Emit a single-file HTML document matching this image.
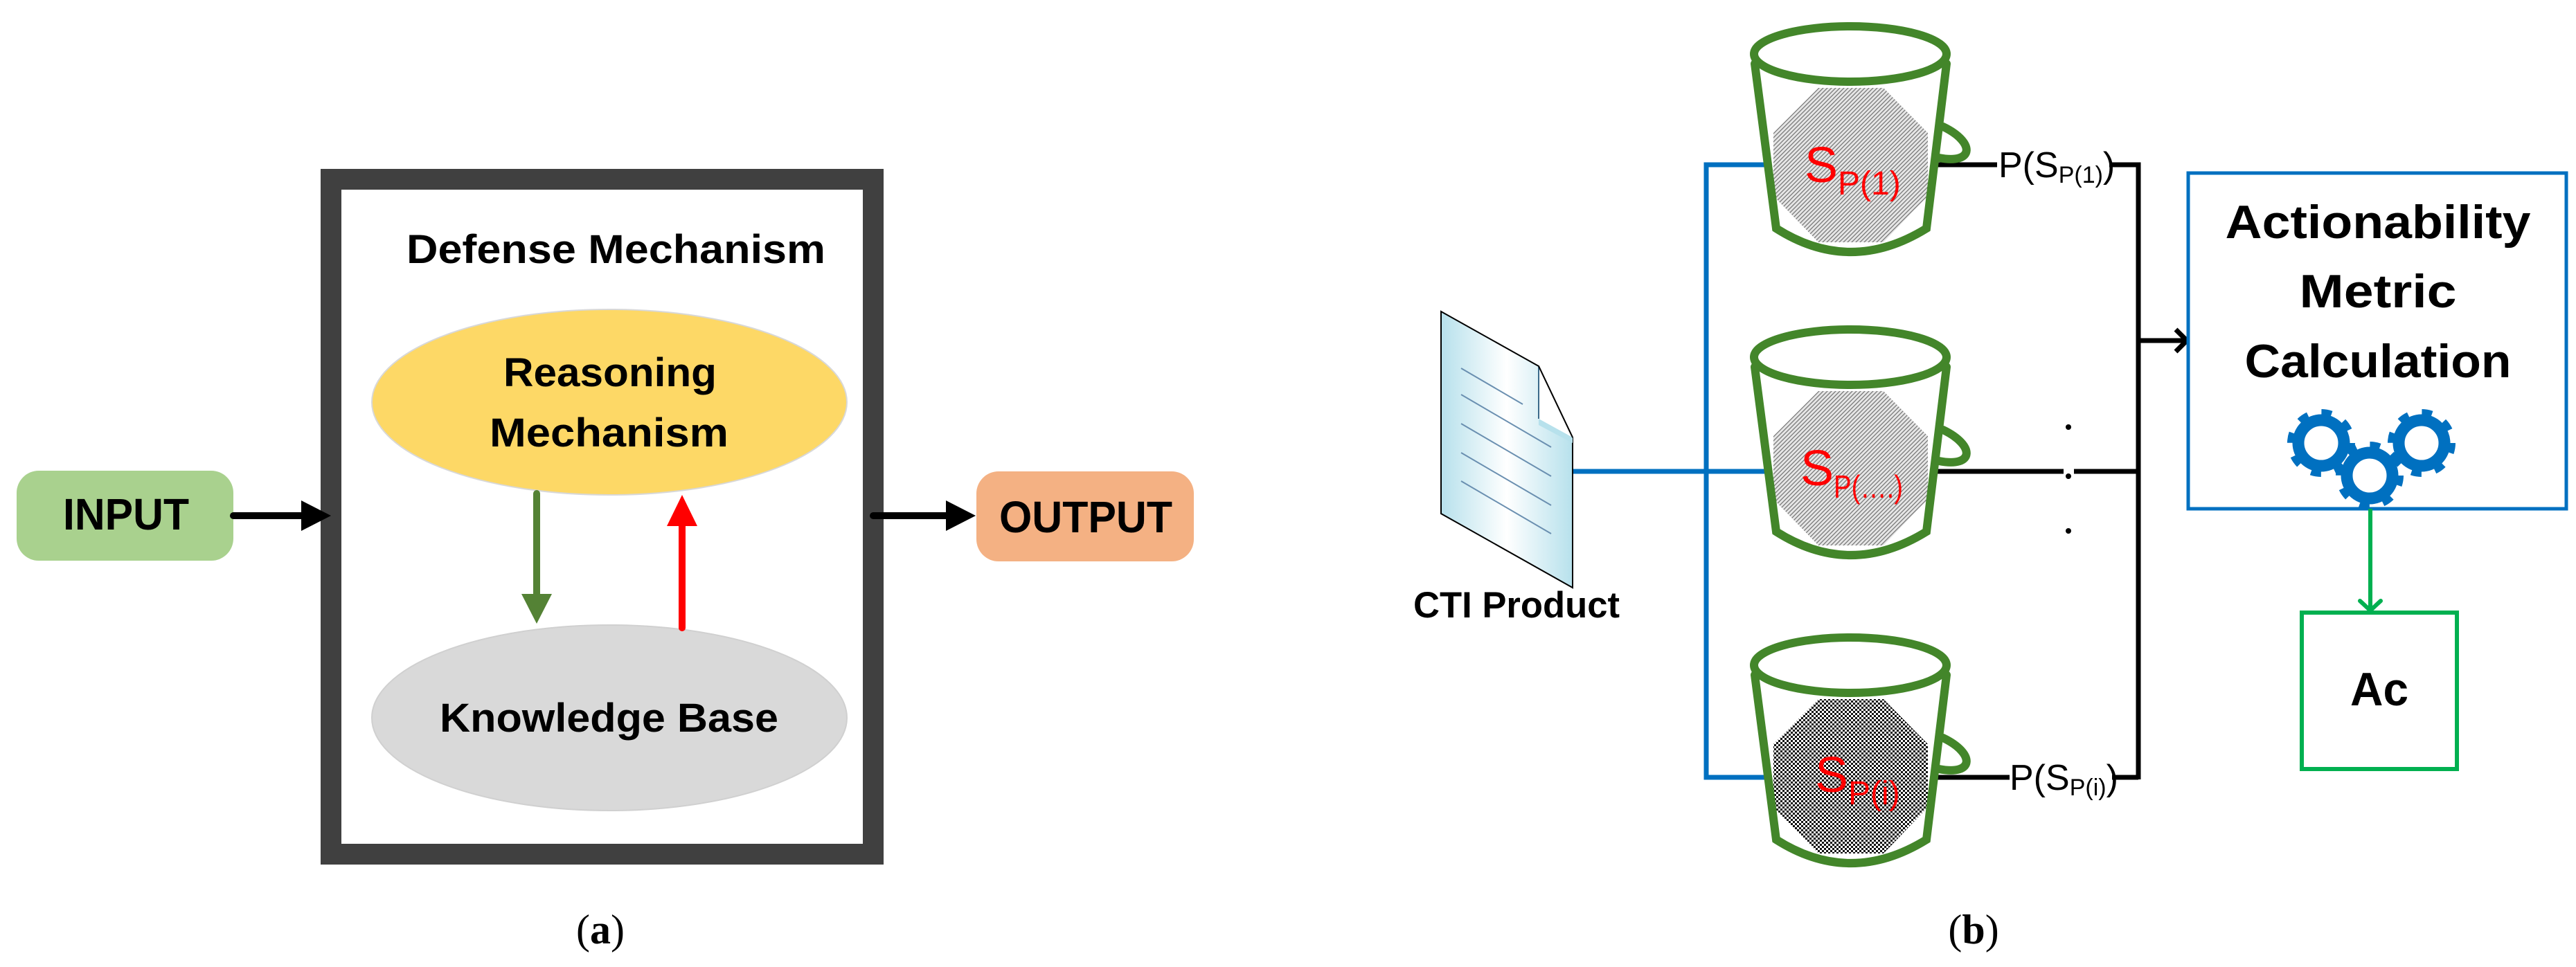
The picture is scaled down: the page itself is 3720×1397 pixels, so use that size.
<!DOCTYPE html>
<html><head><meta charset="utf-8"><style>html,body{margin:0;padding:0;background:#fff}svg{display:block}</style></head>
<body>
<svg width="3720" height="1397" viewBox="0 0 3720 1397" xmlns="http://www.w3.org/2000/svg" font-family="'Liberation Sans', sans-serif">
<defs>
<pattern id="hatch" width="6" height="6" patternUnits="userSpaceOnUse">
<rect width="6" height="6" fill="#e6e6e6"/>
<path d="M-1,7 L7,-1 M-1,1 L1,-1 M5,7 L7,5" stroke="#777" stroke-width="1.3"/>
</pattern>
<pattern id="check" width="6" height="6" patternUnits="userSpaceOnUse">
<rect width="6" height="6" fill="#fff"/>
<rect width="3" height="3" fill="#111"/><rect x="3" y="3" width="3" height="3" fill="#111"/>
</pattern>
<linearGradient id="doc" x1="0" x2="1" y1="0" y2="0">
<stop offset="0" stop-color="#b7e1ec"/><stop offset="0.5" stop-color="#ffffff"/><stop offset="1" stop-color="#b7e1ec"/>
</linearGradient>
<g id="gear">
<circle r="33" fill="none" stroke="#0070c0" stroke-width="17"/>
<circle r="42" fill="none" stroke="#0070c0" stroke-width="14" stroke-dasharray="14 19"/>
</g>
<g id="bucket" fill="none" stroke="#43862a" stroke-width="12" stroke-linecap="round">
<ellipse cx="2672" cy="78" rx="139" ry="40"/>
<path d="M2534,92 L2565,330 Q2672,398 2782,330 L2811,92"/>
<path d="M2806,183 C2852,205 2852,238 2800,228"/>
</g>
</defs>

<!-- LEFT PANEL -->
<rect x="478" y="259" width="783" height="975" fill="#fff" stroke="#404040" stroke-width="30"/>
<text x="587" y="380" font-size="58" font-weight="bold" textLength="605" lengthAdjust="spacingAndGlyphs">Defense Mechanism</text>
<ellipse cx="880" cy="581" rx="343" ry="134" fill="#fdd866" stroke="#d8d8d8" stroke-width="2"/>
<text x="727" y="558" font-size="58" font-weight="bold" textLength="308" lengthAdjust="spacingAndGlyphs">Reasoning</text>
<text x="707" y="645" font-size="58" font-weight="bold" textLength="345" lengthAdjust="spacingAndGlyphs">Mechanism</text>
<ellipse cx="880" cy="1037" rx="343" ry="134" fill="#d9d9d9" stroke="#d0d0d0" stroke-width="2"/>
<text x="635" y="1057" font-size="58" font-weight="bold" textLength="489" lengthAdjust="spacingAndGlyphs">Knowledge Base</text>
<line x1="775" y1="713" x2="775" y2="862" stroke="#548235" stroke-width="10" stroke-linecap="round"/>
<polygon points="753,858 797,858 775,901" fill="#548235"/>
<line x1="985" y1="907" x2="985" y2="758" stroke="#ff0000" stroke-width="10" stroke-linecap="round"/>
<polygon points="963,760 1007,760 985,715" fill="#ff0000"/>
<rect x="24" y="680" width="313" height="130" rx="32" fill="#a9d18e"/>
<text x="91" y="765" font-size="64" font-weight="bold" textLength="182" lengthAdjust="spacingAndGlyphs">INPUT</text>
<line x1="337" y1="745" x2="440" y2="745" stroke="#000" stroke-width="10" stroke-linecap="round"/>
<polygon points="435,723 435,767 478,745" fill="#000"/>
<line x1="1261" y1="745" x2="1370" y2="745" stroke="#000" stroke-width="10" stroke-linecap="round"/>
<polygon points="1366,723 1366,767 1409,745" fill="#000"/>
<rect x="1410" y="681" width="314" height="130" rx="32" fill="#f4b183"/>
<text x="1443" y="769" font-size="64" font-weight="bold" textLength="250" lengthAdjust="spacingAndGlyphs">OUTPUT</text>
<text x="867" y="1363" font-size="60" text-anchor="middle" font-family="'Liberation Serif', serif">(<tspan font-weight="bold">a</tspan>)</text>

<!-- RIGHT PANEL -->
<!-- blue connectors -->
<g stroke="#0070c0" stroke-width="7" fill="none">
<polyline points="2552,238 2464,238 2464,1123 2552,1123"/>
<line x1="2271" y1="681" x2="2556" y2="681"/>
</g>
<!-- black connectors -->
<g stroke="#000" stroke-width="7" fill="none">
<line x1="2795" y1="238" x2="2884" y2="238"/>
<polyline points="3046,238 3088,238 3088,1126"/>
<line x1="2795" y1="681" x2="2980" y2="681"/>
<line x1="2995" y1="681" x2="3088" y2="681"/>
<line x1="2795" y1="1123" x2="2902" y2="1123"/>
<line x1="3050" y1="1123" x2="3088" y2="1123"/>
<line x1="3085" y1="492" x2="3158" y2="492"/>
<polyline points="3142,476 3158,492 3142,508"/>
</g>
<circle cx="2987" cy="617" r="4" fill="#000"/>
<circle cx="2987" cy="688" r="4" fill="#000"/>
<circle cx="2987" cy="767" r="4" fill="#000"/>

<!-- buckets -->
<g>
<polygon points="2626,127 2720,127 2784,192 2784,283 2720,350 2626,350 2561,283 2561,192" fill="url(#hatch)"/>
<use href="#bucket"/>
<text x="2606" y="263" font-size="72" fill="#ff0000">S<tspan font-size="48" dy="18">P(1)</tspan></text>
</g>
<g transform="translate(0,438)">
<polygon points="2626,127 2720,127 2784,192 2784,283 2720,350 2626,350 2561,283 2561,192" fill="url(#hatch)"/>
<use href="#bucket"/>
<text x="2600" y="263" font-size="72" fill="#ff0000">S<tspan font-size="46" dy="18" textLength="100" lengthAdjust="spacingAndGlyphs">P(….)</tspan></text>
</g>
<g transform="translate(0,883)">
<polygon points="2626,127 2720,127 2784,192 2784,283 2720,350 2626,350 2561,283 2561,192" fill="url(#check)"/>
<use href="#bucket"/>
<text x="2621" y="261" font-size="72" fill="#ff0000">S<tspan font-size="48" dy="18">P(i)</tspan></text>
</g>

<!-- labels -->
<text x="2886" y="256" font-size="52">P(S<tspan font-size="34" dy="8">P(1)</tspan><tspan dy="-8">)</tspan></text>
<text x="2902" y="1141" font-size="52">P(S<tspan font-size="34" dy="8">P(i)</tspan><tspan dy="-8">)</tspan></text>

<!-- document -->
<polygon points="2081,450 2222,529 2271,632 2271,849 2081,742" fill="url(#doc)" stroke="#000" stroke-width="2"/>
<polygon points="2222,529 2271,632 2222,605" fill="#fff" stroke="none"/>
<polygon points="2222,605 2271,632 2271,640 2222,614" fill="#b7e1ec"/>
<line x1="2222" y1="529" x2="2222" y2="605" stroke="#3a6a8a" stroke-width="2"/>
<line x1="2222" y1="529" x2="2271" y2="632" stroke="#000" stroke-width="2"/>
<g stroke="#6a8fb0" stroke-width="2">
<line x1="2110" y1="532" x2="2199" y2="584"/>
<line x1="2110" y1="570" x2="2240" y2="646"/>
<line x1="2110" y1="612" x2="2240" y2="688"/>
<line x1="2110" y1="654" x2="2240" y2="730"/>
<line x1="2110" y1="695" x2="2240" y2="771"/>
</g>
<text x="2041" y="892" font-size="53" font-weight="bold" textLength="298" lengthAdjust="spacingAndGlyphs">CTI Product</text>

<!-- Actionability box -->
<rect x="3160" y="250" width="546" height="485" fill="#fff" stroke="#0070c0" stroke-width="5"/>
<text x="3434" y="344" font-size="68" font-weight="bold" text-anchor="middle" textLength="441" lengthAdjust="spacingAndGlyphs">Actionability</text>
<text x="3434" y="444" font-size="68" font-weight="bold" text-anchor="middle" textLength="227" lengthAdjust="spacingAndGlyphs">Metric</text>
<text x="3434" y="545" font-size="68" font-weight="bold" text-anchor="middle" textLength="385" lengthAdjust="spacingAndGlyphs">Calculation</text>
<use href="#gear" x="3352" y="640"/>
<use href="#gear" x="3497" y="640"/>
<use href="#gear" x="3422" y="687"/>

<!-- Ac -->
<line x1="3423" y1="735" x2="3423" y2="880" stroke="#00b050" stroke-width="6"/>
<polyline points="3408,868 3423,882 3438,868" fill="none" stroke="#00b050" stroke-width="6" stroke-linecap="round"/>
<rect x="3324" y="885" width="224" height="226" fill="#fff" stroke="#00b050" stroke-width="6"/>
<text x="3436" y="1019" font-size="68" font-weight="bold" text-anchor="middle" textLength="84" lengthAdjust="spacingAndGlyphs">Ac</text>

<text x="2850" y="1363" font-size="60" text-anchor="middle" font-family="'Liberation Serif', serif">(<tspan font-weight="bold">b</tspan>)</text>
</svg>
</body></html>
